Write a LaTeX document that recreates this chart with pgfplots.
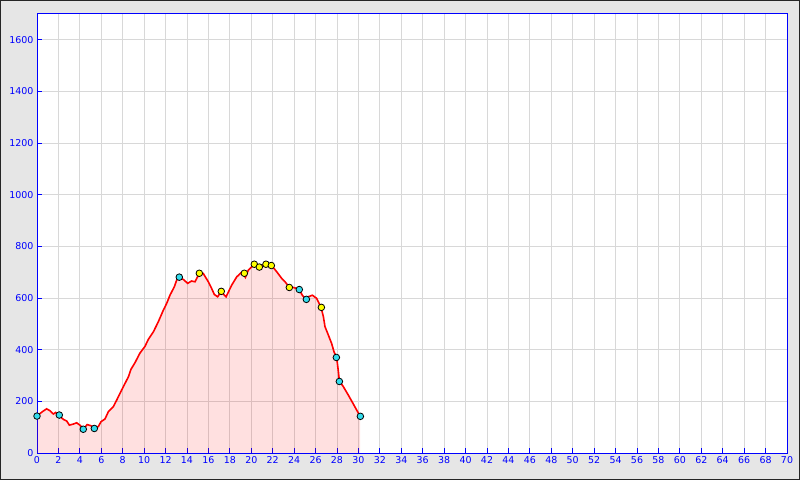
\documentclass[border=0pt]{standalone}
\usepackage{fontspec}
\setmainfont{DejaVu Sans}
\usepackage{pgfplots}
\pgfplotsset{compat=1.18}
\definecolor{bg}{HTML}{E6E6E6}
\definecolor{gridc}{HTML}{D8D8D8}
\definecolor{fillc}{HTML}{FFE0E0}
\definecolor{cyanm}{HTML}{33DDEE}
\definecolor{yelm}{HTML}{FFFF00}

\pgfplotstableread{
x y
0 143
0.5 160
0.9 171
1.2 164
1.53 151
1.74 157
2.05 146
2.46 130
2.77 124
3.02 108
3.39 112
3.7 117
4.0 108
4.32 94
4.69 110
5.01 106
5.35 98
5.72 102
5.97 121
6.35 132
6.66 160
7.12 179
7.44 205
7.9 244
8.53 295
8.77 324
9.15 350
9.61 387
10.08 413
10.39 440
10.86 469
11.32 508
11.79 553
12.1 579
12.41 611
12.82 644
13.04 670
13.28 680
13.66 672
14.06 657
14.43 666
14.75 663
15.12 693
15.52 695
15.99 663
16.3 637
16.55 614
16.86 605
17.17 624
17.65 605
18.17 650
18.64 682
19.04 698
19.3 690
19.45 680
19.72 708
20.28 730
20.75 721
21.37 731
21.9 726
22.37 702
22.84 676
23.15 663
23.52 644
23.92 641
24.45 635
24.76 611
25.1 595
25.32 605
25.7 611
26.1 599
26.51 564
26.73 528
26.88 489
27.19 457
27.5 424
27.72 392
27.97 370
28.13 315
28.22 279
28.59 257
29.06 224
29.52 190
29.84 166
30.15 143
}\profile

\begin{document}
\begin{tikzpicture}
\useasboundingbox (-37bp,-27bp) rectangle (763bp,453bp);
\fill[bg, draw=black!85, line width=1bp] (-36.5bp,-26.5bp) rectangle (762.5bp,452.5bp);
\begin{axis}[
    at={(0,0)}, anchor=south west,
    scale only axis,
    width=750bp, height=439bp,
    xmin=0, xmax=70, ymin=0, ymax=1700,
    xtick distance=2,
    ytick={0,200,...,1600},
    grid=major,
    major grid style={gridc, line width=1bp},
    axis background/.style={fill=white},
    axis line style={blue, line width=1bp},
    tick style={blue, line width=1bp},
    tick align=inside,
    major tick length=5bp,
    tick pos=left,
    ticklabel style={font=\fontsize{9.5}{11}\selectfont, text=blue},
    /pgf/number format/assume math mode=true,
    /pgf/number format/1000 sep={},
]
\addplot[draw=none, fill=red, fill opacity=0.12] table[x=x, y=y] {\profile} \closedcycle;
\addplot[red, line width=1.6bp] table[x=x, y=y] {\profile};
\addplot[only marks, mark=*, mark size=3.3bp, mark options={fill=cyanm, draw=black, line width=0.8bp}] coordinates {
    (0,143) (2.08,147) (4.32,92) (5.35,95) (13.28,681) (24.48,633)
    (25.14,595) (27.94,370) (28.22,277) (30.18,142)
};
\addplot[only marks, mark=*, mark size=3.3bp, mark options={fill=yelm, draw=black, line width=0.8bp}] coordinates {
    (15.15,696) (17.2,626) (19.35,696) (20.28,731) (20.75,720)
    (21.37,731) (21.87,726) (23.55,641) (26.54,564)
};
\end{axis}
\end{tikzpicture}
\end{document}
